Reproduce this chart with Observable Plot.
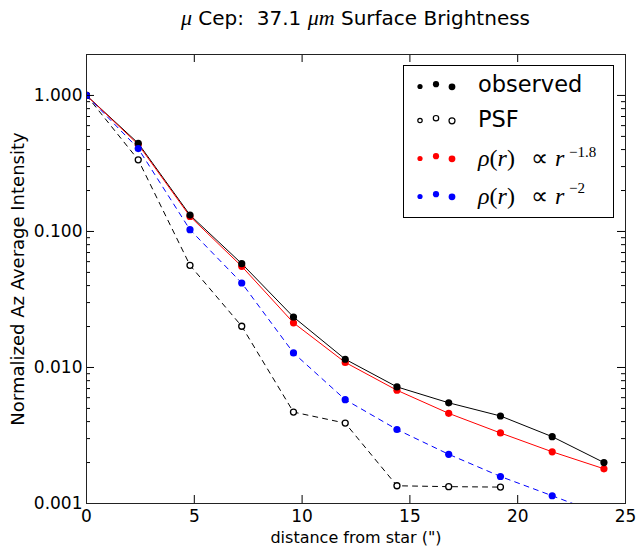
<!DOCTYPE html>
<html>
<head>
<meta charset="utf-8">
<script src="https://cdn.jsdelivr.net/npm/d3@7"></script>
<script src="https://cdn.jsdelivr.net/npm/@observablehq/plot@0.6"></script>
<style>
  html, body { margin: 0; padding: 0; background: #fff; }
  #wrap { position: relative; width: 639px; height: 546px; font-family: "DejaVu Sans", sans-serif; }
  #title { position: absolute; left: 86px; width: 539px; top: 8px; line-height: 20px; font-size: 20px; text-align: center; color: #000; white-space: pre; }
  #title i { font-family: "Liberation Serif", serif; font-size: 22px; }
  #chart { position: absolute; left: 0; top: 40px; }
  #legend { position: absolute; left: 0; top: 0; pointer-events: none; }
</style>
</head>
<body>
<div id="wrap">
  <div id="title"><i>μ</i> Cep:  37.1 <i>μm</i> Surface Brightness</div>
  <div id="chart"></div>
  <svg id="legend" width="639" height="546"></svg>
</div>
<script>
// ---- data ----
const distance = [0, 2.4, 4.8, 7.2, 9.6, 12.0, 14.4, 16.8, 19.2, 21.6, 24.0];
const observed = [1.0, 0.445, 0.132, 0.058, 0.0235, 0.0115, 0.0072, 0.0055, 0.0044, 0.0031, 0.0020];
const rho18    = [1.0, 0.436, 0.129, 0.0554, 0.0213, 0.0109, 0.0068, 0.0046, 0.0033, 0.0024, 0.0018];
const rho2     = [1.0, 0.407, 0.103, 0.0418, 0.0128, 0.0058, 0.0035, 0.0023, 0.00158, 0.00114, 0.00082];
const psfDistance = [0, 2.4, 4.8, 7.2, 9.6, 12.0, 14.4, 16.8, 19.2];
const psf      = [1.0, 0.336, 0.0564, 0.0201, 0.0047, 0.0039, 0.00135, 0.00133, 0.00132];

const xTicks = [0, 5, 10, 15, 20, 25];
const yTicks = [0.001, 0.01, 0.1, 1];
const yMinor = [];
for (const dec of [0.001, 0.01, 0.1]) for (let m = 2; m <= 9; m++) yMinor.push(m * dec);

const xLabel = "distance from star (\")";
const yLabel = "Normalized Az Average Intensity";
const legendLabels = ["observed", "PSF"];

const obsData = distance.map((d, i) => ({x: d, y: observed[i]}));
const r18Data = distance.map((d, i) => ({x: d, y: rho18[i]}));
const r2Data  = distance.map((d, i) => ({x: d, y: rho2[i]}));
const psfData = psfDistance.map((d, i) => ({x: d, y: psf[i]}));

const W = 639, H = 506, mL = 86, mR = 14, mT = 14, mB = 43;
const innerW = W - mL - mR, innerH = H - mT - mB;

const chart = Plot.plot({
  width: W, height: H,
  marginLeft: mL, marginRight: mR, marginTop: mT, marginBottom: mB,
  style: {fontFamily: "DejaVu Sans", fontSize: "17px", color: "#000", background: "#fff", overflow: "visible"},
  x: {domain: [0, 25]},
  y: {type: "log", domain: [0.001, 2]},
  marks: [
    // lines
    Plot.line(obsData, {x: "x", y: "y", stroke: "#000", strokeWidth: 1, clip: true}),
    Plot.line(psfData, {x: "x", y: "y", stroke: "#000", strokeWidth: 1, strokeDasharray: "5,5", clip: true}),
    Plot.line(r18Data, {x: "x", y: "y", stroke: "#ff0000", strokeWidth: 1, clip: true}),
    Plot.line(r2Data, {x: "x", y: "y", stroke: "#0000ff", strokeWidth: 1, strokeDasharray: "5,5", clip: true}),
    // dots
    Plot.dot(r18Data, {x: "x", y: "y", r: 3.6, fill: "#ff0000", clip: true}),
    Plot.dot(psfData, {x: "x", y: "y", r: 3, fill: "#fff", stroke: "#000", strokeWidth: 1.3, clip: true}),
    Plot.dot(obsData, {x: "x", y: "y", r: 3.6, fill: "#000", clip: true}),
    Plot.dot(r2Data, {x: "x", y: "y", r: 3.6, fill: "#0000ff", clip: true}),
    // inward ticks, all four sides
    Plot.tickX(xTicks, {x: d => d, insetTop: innerH - 8, stroke: "#000"}),
    Plot.tickX(xTicks, {x: d => d, insetBottom: innerH - 8, stroke: "#000"}),
    Plot.tickY(yTicks, {y: d => d, insetRight: innerW - 8, stroke: "#000"}),
    Plot.tickY(yTicks, {y: d => d, insetLeft: innerW - 8, stroke: "#000"}),
    Plot.tickY(yMinor, {y: d => d, insetRight: innerW - 4, stroke: "#000"}),
    Plot.tickY(yMinor, {y: d => d, insetLeft: innerW - 4, stroke: "#000"}),
    // tick labels
    Plot.axisX({ticks: xTicks, tickSize: 0, tickPadding: 6, tickFormat: d3.format("d"), label: null}),
    Plot.axisY({ticks: yTicks, tickSize: 0, tickPadding: 4, tickFormat: d3.format(".3f"), label: null}),
    // axis labels
    Plot.text([yLabel], {text: d => d, frameAnchor: "left", textAnchor: "middle", rotate: -90, dx: -68, fontSize: 18, lineAnchor: "middle", fill: "#000"}),
    Plot.text([xLabel], {text: d => d, frameAnchor: "bottom", textAnchor: "middle", dy: 34, fontSize: 16, lineAnchor: "middle", fill: "#000"}),
    Plot.frame({stroke: "#222", strokeWidth: 1})
  ]
});
document.getElementById("chart").append(chart);

// ---- legend ----
const leg = d3.select("#legend");
leg.append("rect").attr("x", 403.5).attr("y", 65.5).attr("width", 210).attr("height", 152)
  .attr("fill", "#fff").attr("stroke", "#000").attr("stroke-width", 1);
const rows = [
  {y: 86, color: "#000", open: false},
  {y: 120, color: "#000", open: true},
  {y: 158, color: "#ff0000", open: false},
  {y: 196, color: "#0000ff", open: false}
];
const dx = [420, 436, 452], dyOff = [0.5, -1.8, 0.8], rr = [2.6, 3.1, 3.4];
rows.forEach(row => {
  dx.forEach((x, j) => {
    leg.append("circle").attr("cx", x).attr("cy", row.y + dyOff[j]).attr("r", row.open ? rr[j] - 0.4 : rr[j])
      .attr("fill", row.open ? "#fff" : row.color).attr("stroke", row.open ? "#000" : "none").attr("stroke-width", 1.2);
  });
});
leg.append("text").attr("x", 478).attr("y", 92).attr("font-family", "DejaVu Sans").attr("font-size", 22.5).text(legendLabels[0]);
leg.append("text").attr("x", 478).attr("y", 127).attr("font-family", "DejaVu Sans").attr("font-size", 22.5).text(legendLabels[1]);
function mathRow(base, sup, supY, supX) {
  const g = leg.append("g").attr("font-family", "Liberation Serif, serif").attr("fill", "#000");
  const t = g.append("text").attr("y", base).attr("font-size", 24);
  t.append("tspan").attr("x", 478).attr("font-style", "italic").text("ρ");
  t.append("tspan").text("(");
  t.append("tspan").attr("font-style", "italic").text("r");
  t.append("tspan").text(")");
  t.append("tspan").attr("x", 531).text("∝");
  t.append("tspan").attr("x", 555).attr("font-style", "italic").text("r");
  g.append("text").attr("x", supX).attr("y", supY).attr("font-size", 15).text(sup);
}
mathRow(166, "−1.8", 157, 569);
mathRow(204, "−2", 193, 569);
</script>
</body>
</html>
